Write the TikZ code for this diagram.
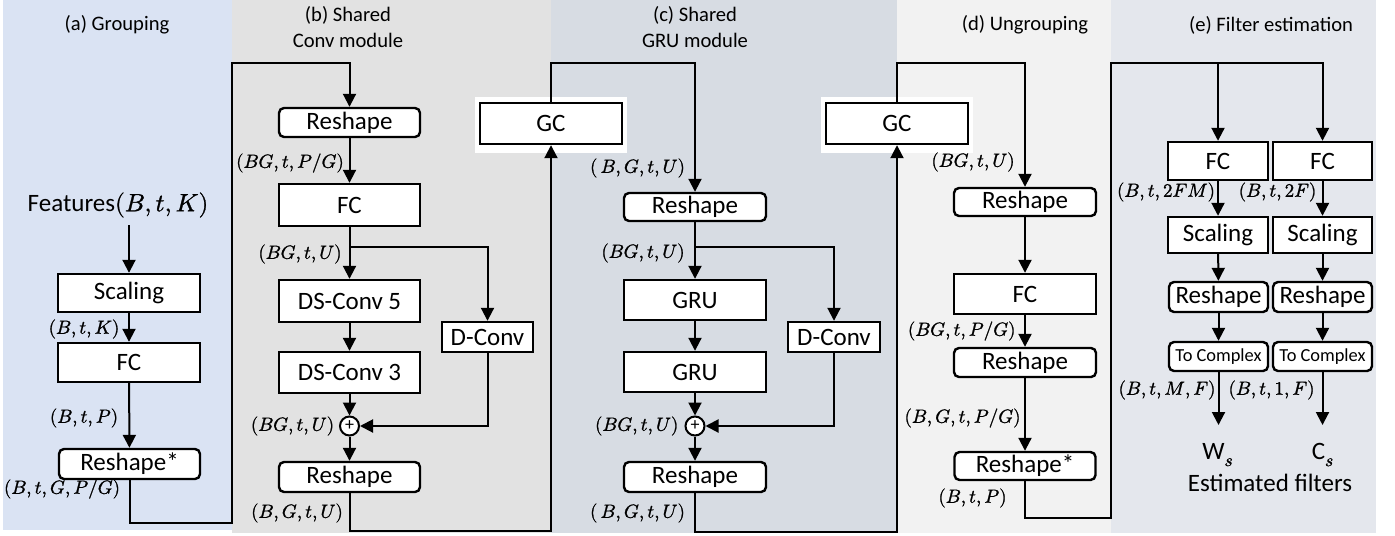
\documentclass[tikz,border=0pt]{standalone}
\usepackage{fontspec}
\usepackage{unicode-math}
\setmainfont{Carlito}
\setmathfont{Latin Modern Math}[FakeBold=1.2]
\usetikzlibrary{arrows.meta,calc}
\definecolor{pa}{RGB}{218,227,243}
\definecolor{pb}{RGB}{226,226,226}
\definecolor{pc}{RGB}{215,220,227}
\definecolor{pd}{RGB}{242,242,242}
\definecolor{pe}{RGB}{228,231,237}
\begin{document}
\begin{tikzpicture}[x=0.5pt,y=-0.5pt,
  conn/.style={line width=1pt,-{Triangle[width=6.5pt,length=6.5pt]}},
  ln/.style={line width=1pt},
  box/.style={draw,line width=1.2pt,fill=white,inner sep=0pt,font=\fontsize{12.5}{14}\selectfont},
  rbox/.style={box,rounded corners=2.5pt},
  bw/.style={minimum width=71pt},
  ew/.style={minimum width=49.5pt},
  lab/.style={font=\fontsize{9.5}{11}\selectfont,inner sep=0pt},
  ttl/.style={font=\fontsize{10.3}{12}\selectfont,inner sep=0pt,align=center},
  big/.style={font=\fontsize{12.5}{14}\selectfont,inner sep=0pt},
  plus/.style={circle,draw,line width=1pt,fill=white,minimum size=9.5pt,inner sep=0pt,font=\fontsize{9}{9}\selectfont},
  halo/.style={fill=white}]
\useasboundingbox (0,0) rectangle (1395,535);
% panel backgrounds
\fill[pa] (3,0) rectangle (232,530);
\fill[pb] (232,0) rectangle (551,533);
\fill[pc] (551,0) rectangle (897,533);
\fill[pd] (897,0) rectangle (1111,533);
\fill[pe] (1111,0) rectangle (1376,533);
% titles
\node[ttl] (ta) at (117,25) {(a) Grouping};
\node[ttl] (tb1) at (348,15) {(b) Shared};
\node[ttl] (tb2) at (348,40) {Conv module};
\node[ttl] (tc1) at (695,15) {(c) Shared};
\node[ttl] (tc2) at (695,40) {GRU module};
\node[ttl] (td) at (1025,25) {(d) Ungrouping};
\node[ttl] (te) at (1271,25) {(e) Filter estimation};

% ---------- panel a
\node[big] (feat) at (118,205) {Features$(B,t,K)$};
\coordinate (featout) at (129,225);
\node[box,bw,minimum height=19pt] (aS) at (129,293) {Scaling};
\node[box,bw,minimum height=19.5pt] (aF) at (129,362.5) {FC};
\node[rbox,minimum width=70.5pt,minimum height=15pt] (aR) at (129.5,464) {Reshape*};
\draw[conn] (featout) -- (aS.north);
\draw[conn] (aS) -- (aF);
\draw[conn] (aF) -- (aR);
\node[lab] (la1) at (84,329) {$(B,t,K)$};
\node[lab] (la2) at (84,418) {$(B,t,P)$};
\node[lab] (la3) at (62,489) {$(B,t,G,P/G)$};

% ---------- panel b
\node[rbox,minimum width=70.5pt,minimum height=14.5pt] (bR1) at (349.5,122.5) {Reshape};
\node[box,minimum width=70.5pt,minimum height=21pt] (bF) at (349.5,205) {FC};
\node[box,minimum width=70.5pt,minimum height=21pt] (bD5) at (349.5,301) {DS-Conv 5};
\node[box,minimum width=45.5pt,minimum height=15pt] (bDC) at (487.5,337) {D-Conv};
\node[box,minimum width=70.5pt,minimum height=20.5pt] (bD3) at (349.5,372.5) {DS-Conv 3};
\node[plus] (bP) at (349.5,426) {+};
\node[rbox,minimum width=70.5pt,minimum height=15pt] (bR2) at (349.5,477) {Reshape};
\draw[conn] (aR.south) -- (129.5,523) -- (232,523) -- (232,63) -- (349.5,63) -- (bR1.north);
\draw[conn] (bR1) -- (bF);
\draw[conn] (bF) -- (bD5);
\draw[conn] (bD5) -- (bD3);
\draw[conn] (bD3) -- (bP);
\draw[conn] (bP) -- (bR2);
\coordinate (bbr) at (349.5,247);
\draw[conn] (bbr) -| (bDC.north);
\draw[conn] (bDC.south) |- (bP.east);
\node[lab] (lb1) at (290,163) {$(BG,t,P/G)$};
\node[lab] (lb2) at (300,254) {$(BG,t,U)$};
\node[lab] (lb3) at (292.5,426) {$(BG,t,U)$};
\node[lab] (lb4) at (297,513) {$(B,G,t,U)$};

% GC 1
\fill[halo] (475,97) rectangle (627,153);
\node[box,bw,minimum height=20.5pt] (gc1) at (551,123.5) {GC};
\draw[conn] (bR2.south) -- (349.5,531) -- (551,531) -- (gc1.south);

% ---------- panel c
\node[rbox,bw,minimum height=14pt] (cR1) at (695,207) {Reshape};
\node[box,bw,minimum height=20pt] (cG1) at (695,300) {GRU};
\node[box,minimum width=46pt,minimum height=15pt] (cDC) at (834,337) {D-Conv};
\node[box,bw,minimum height=20pt] (cG2) at (695,372) {GRU};
\node[plus] (cP) at (695,426) {+};
\node[rbox,bw,minimum height=15pt] (cR2) at (695,477) {Reshape};
\draw[conn] (gc1.north) -- (551,63) -- (695,63) -- (cR1.north);
\draw[conn] (cR1) -- (cG1);
\draw[conn] (cG1) -- (cG2);
\draw[conn] (cG2) -- (cP);
\draw[conn] (cP) -- (cR2);
\coordinate (cbr) at (695,247);
\draw[conn] (cbr) -| (cDC.north);
\draw[conn] (cDC.south) |- (cP.east);
\node[lab] (lc1) at (637.5,168) {$(\,B,G,t,U)$};
\node[lab] (lc2) at (643,253) {$(BG,t,U)$};
\node[lab] (lc3) at (636.7,426) {$(BG,t,U)$};
\node[lab] (lc4) at (637.5,513) {$(\,B,G,t,U)$};

% GC 2
\fill[halo] (821,97) rectangle (973,153);
\node[box,bw,minimum height=20.5pt] (gc2) at (897,123.5) {GC};
\draw[conn] (cR2.south) -- (695,532) -- (897,532) -- (gc2.south);

% ---------- panel d
\node[rbox,bw,minimum height=14pt] (dR1) at (1025,202) {Reshape};
\node[box,bw,minimum height=20pt] (dF) at (1025,294) {FC};
\node[rbox,bw,minimum height=14.5pt] (dR2) at (1025,362.5) {Reshape};
\node[rbox,minimum width=70.5pt,minimum height=14pt] (dR3) at (1025,466) {Reshape*};
\draw[conn] (gc2.north) -- (897,63) -- (1025,63) -- (dR1.north);
\draw[conn] (dR1) -- (dF);
\draw[conn] (dF) -- (dR2);
\draw[conn] (dR2) -- (dR3);
\node[lab] (ld1) at (973,162) {$(BG,t,U)$};
\node[lab] (ld2) at (961.7,331) {$(BG,t,P/G)$};
\node[lab] (ld3) at (962.5,418) {$(B,G,t,P/G)$};
\node[lab] (ld4) at (972.5,498) {$(B,t,P)$};

% ---------- panel e
\node[box,minimum width=50pt,minimum height=19pt] (eF1) at (1218,161) {FC};
\node[box,ew,minimum height=19pt] (eF2) at (1322.5,161) {FC};
\node[box,minimum width=50pt,minimum height=18pt] (eS1) at (1218,235) {Scaling};
\node[box,ew,minimum height=18pt] (eS2) at (1322.5,235) {Scaling};
\node[rbox,ew,minimum height=15pt] (eR1) at (1218.5,297) {Reshape};
\node[rbox,ew,minimum height=15pt] (eR2) at (1322.5,297) {Reshape};
\node[rbox,ew,minimum height=14.5pt,font=\fontsize{9.2}{10}\selectfont] (eT1) at (1218.5,356.5) {To Complex};
\node[rbox,ew,minimum height=14.5pt,font=\fontsize{9.2}{10}\selectfont] (eT2) at (1322.5,356.5) {To Complex};
\coordinate (eTop1) at (1218,63);
\draw[conn] (dR3.south) -- (1025,518) -- (1111,518) -- (1111,63) -| (eF2.north);
\draw[conn] (eTop1) -- (eF1.north);
\draw[conn] (eF1) -- (eS1);
\draw[conn] (eF2) -- (eS2);
\draw[conn] (eS1) -- (eR1);
\draw[conn] (eS2) -- (eR2);
\draw[conn] (eR1) -- (eT1);
\draw[conn] (eR2) -- (eT2);
\coordinate (wT) at (1218.5,425);
\coordinate (cT) at (1322.5,425);
\draw[conn] (eT1) -- (wT);
\draw[conn] (eT2) -- (cT);
\node[lab] (le1) at (1166,192) {$(B,t,2FM)$};
\node[lab] (le2) at (1277.5,192) {$(B,t,2F)$};
\node[lab] (le3) at (1167,390) {$(B,t,M,F)$};
\node[lab] (le4) at (1271.5,390) {$(B,t,1,F)$};
\node[big] (W) at (1218,455) {$\mathrm{W}_s$};
\node[big] (C) at (1323,455) {$\mathrm{C}_s$};
\node[big] (est) at (1270,483) {Estimated filters};
\end{tikzpicture}
\end{document}
